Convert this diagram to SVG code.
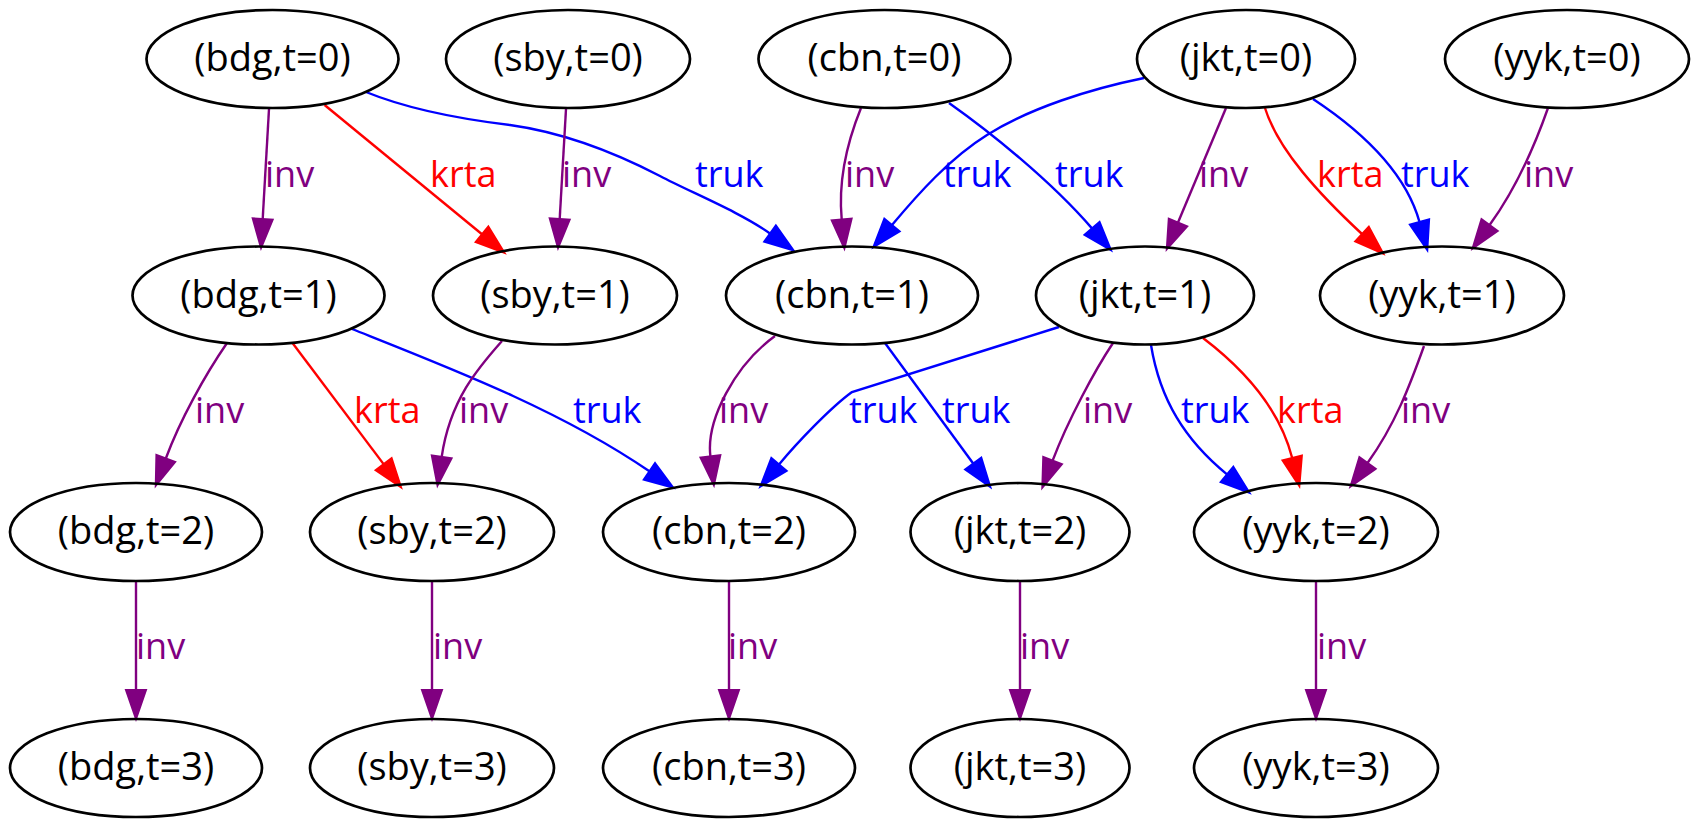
<svg xmlns="http://www.w3.org/2000/svg" width="1700" height="828" viewBox="0 0 1700 828">
<defs>
<style>
.node ellipse{fill:none;stroke:#000;stroke-width:2.7}
.node text{font-family:"Open Sans","Noto Sans","DejaVu Sans",sans-serif;font-size:38px;text-anchor:middle;fill:#000}
.e path{fill:none;stroke-width:2.4}
.lbl{font-family:"Open Sans","Noto Sans","DejaVu Sans",sans-serif;font-size:36px}
.inv path{stroke:#800080;marker-end:url(#ap)}
.krta path{stroke:#ff0000;marker-end:url(#ar)}
.truk path{stroke:#0000ff;marker-end:url(#ab)}
.inv text{fill:#800080}
.krta text{fill:#ff0000}
.truk text{fill:#0000ff}
</style>
<marker id="ap" markerUnits="userSpaceOnUse" markerWidth="32" markerHeight="24" refX="0" refY="11" orient="auto" overflow="visible"><path d="M0,1 L29,11 L0,21 z" fill="#800080" stroke="#800080" stroke-width="2"/></marker>
<marker id="ar" markerUnits="userSpaceOnUse" markerWidth="32" markerHeight="24" refX="0" refY="11" orient="auto" overflow="visible"><path d="M0,1 L29,11 L0,21 z" fill="#ff0000" stroke="#ff0000" stroke-width="2"/></marker>
<marker id="ab" markerUnits="userSpaceOnUse" markerWidth="32" markerHeight="24" refX="0" refY="11" orient="auto" overflow="visible"><path d="M0,1 L29,11 L0,21 z" fill="#0000ff" stroke="#0000ff" stroke-width="2"/></marker>
</defs>
<rect width="1700" height="828" fill="#fff"/>
<g id="connectors">
<g class="e inv"><path d="M269,109 L262.7,219"/><text class="lbl" x="265" y="187">inv</text></g>
<g class="e krta"><path d="M324.6,105 L482,234.3"/><text class="lbl" x="430" y="187">krta</text></g>
<g class="e truk"><path d="M366,92 C410,110 460,119 510,125 C560,132 610,150 660,176 C690,192 740,212 770,233.5"/><text class="lbl" x="695" y="187">truk</text></g>
<g class="e inv"><path d="M566,109 L559.7,219"/><text class="lbl" x="562" y="187">inv</text></g>
<g class="e inv"><path d="M861,108 C848,140 838,180 841.7,219.5"/><text class="lbl" x="845" y="187">inv</text></g>
<g class="e truk"><path d="M949,103 C990,132 1050,180 1092,228.4"/><text class="lbl" x="1055" y="187">truk</text></g>
<g class="e truk"><path d="M1144,78 C1090,89 1030,108 987,135 C950,158 918,194 892,225"/><text class="lbl" x="943" y="187">truk</text></g>
<g class="e inv"><path d="M1226,108 L1178,222.5"/><text class="lbl" x="1199" y="187">inv</text></g>
<g class="e krta"><path d="M1265,108 C1278,150 1320,195 1362,234"/><text class="lbl" x="1317" y="187">krta</text></g>
<g class="e truk"><path d="M1313,99 C1360,130 1405,170 1419.5,222"/><text class="lbl" x="1401" y="187">truk</text></g>
<g class="e inv"><path d="M1548,108 C1535,145 1515,190 1489.6,225"/><text class="lbl" x="1524" y="187">inv</text></g>
<g class="e inv"><path d="M227,343 C205,375 180,420 165.8,458.5"/><text class="lbl" x="195" y="423">inv</text></g>
<g class="e krta"><path d="M292.3,342.7 L383.6,464.1"/><text class="lbl" x="354" y="423">krta</text></g>
<g class="e truk"><path d="M352,329 C450,368 560,410 649.4,471.3"/><text class="lbl" x="573" y="423">truk</text></g>
<g class="e inv"><path d="M502,341 C478,368 450,400 441.7,456.8"/><text class="lbl" x="459" y="423">inv</text></g>
<g class="e inv"><path d="M775,336 C735,365 706,420 710.4,456.4"/><text class="lbl" x="719" y="423">inv</text></g>
<g class="e truk"><path d="M885,343 L973.2,463.5"/><text class="lbl" x="942" y="423">truk</text></g>
<g class="e truk"><path d="M1059,327 L852,392 C830,408 797,443 779,464.4"/><text class="lbl" x="849" y="423">truk</text></g>
<g class="e inv"><path d="M1113,343 C1095,370 1068,420 1052.6,460.6"/><text class="lbl" x="1083" y="423">inv</text></g>
<g class="e truk"><path d="M1151,345 C1160,400 1185,440 1227,474.4"/><text class="lbl" x="1181" y="423">truk</text></g>
<g class="e krta"><path d="M1203,338 C1245,370 1280,410 1292.2,458"/><text class="lbl" x="1277" y="423">krta</text></g>
<g class="e inv"><path d="M1424,346 C1410,385 1395,425 1367.5,463"/><text class="lbl" x="1401" y="423">inv</text></g>
<g class="e inv"><path d="M136,581 L136,690"/><text class="lbl" x="136" y="659">inv</text></g>
<g class="e inv"><path d="M432,581 L432,690"/><text class="lbl" x="433" y="659">inv</text></g>
<g class="e inv"><path d="M729,581 L729,690"/><text class="lbl" x="728" y="659">inv</text></g>
<g class="e inv"><path d="M1020,581 L1020,690"/><text class="lbl" x="1020" y="659">inv</text></g>
<g class="e inv"><path d="M1316,581 L1316,690"/><text class="lbl" x="1317" y="659">inv</text></g>
</g>
<g id="bdg_t0" class="node"><ellipse cx="272.5" cy="59" rx="126" ry="49"/><text x="272.5" y="71">(bdg,t=0)</text></g>
<g id="sby_t0" class="node"><ellipse cx="568" cy="59" rx="122" ry="49"/><text x="568" y="71">(sby,t=0)</text></g>
<g id="cbn_t0" class="node"><ellipse cx="884.5" cy="59" rx="126" ry="49"/><text x="884.5" y="71">(cbn,t=0)</text></g>
<g id="jkt_t0" class="node"><ellipse cx="1246" cy="59" rx="109" ry="49"/><text x="1246" y="71">(jkt,t=0)</text></g>
<g id="yyk_t0" class="node"><ellipse cx="1567" cy="59" rx="122" ry="49"/><text x="1567" y="71">(yyk,t=0)</text></g>
<g id="bdg_t1" class="node"><ellipse cx="258.5" cy="295.5" rx="126" ry="49"/><text x="258.5" y="307.5">(bdg,t=1)</text></g>
<g id="sby_t1" class="node"><ellipse cx="555" cy="295.5" rx="122" ry="49"/><text x="555" y="307.5">(sby,t=1)</text></g>
<g id="cbn_t1" class="node"><ellipse cx="852" cy="295.5" rx="126" ry="49"/><text x="852" y="307.5">(cbn,t=1)</text></g>
<g id="jkt_t1" class="node"><ellipse cx="1145" cy="295.5" rx="109" ry="49"/><text x="1145" y="307.5">(jkt,t=1)</text></g>
<g id="yyk_t1" class="node"><ellipse cx="1442" cy="295.5" rx="122" ry="49"/><text x="1442" y="307.5">(yyk,t=1)</text></g>
<g id="bdg_t2" class="node"><ellipse cx="136" cy="532" rx="126" ry="49"/><text x="136" y="544">(bdg,t=2)</text></g>
<g id="sby_t2" class="node"><ellipse cx="432" cy="532" rx="122" ry="49"/><text x="432" y="544">(sby,t=2)</text></g>
<g id="cbn_t2" class="node"><ellipse cx="729" cy="532" rx="126" ry="49"/><text x="729" y="544">(cbn,t=2)</text></g>
<g id="jkt_t2" class="node"><ellipse cx="1020" cy="532" rx="109.5" ry="49"/><text x="1020" y="544">(jkt,t=2)</text></g>
<g id="yyk_t2" class="node"><ellipse cx="1316" cy="532" rx="122" ry="49"/><text x="1316" y="544">(yyk,t=2)</text></g>
<g id="bdg_t3" class="node"><ellipse cx="136" cy="768" rx="126" ry="49"/><text x="136" y="780">(bdg,t=3)</text></g>
<g id="sby_t3" class="node"><ellipse cx="432" cy="768" rx="122" ry="49"/><text x="432" y="780">(sby,t=3)</text></g>
<g id="cbn_t3" class="node"><ellipse cx="729" cy="768" rx="126" ry="49"/><text x="729" y="780">(cbn,t=3)</text></g>
<g id="jkt_t3" class="node"><ellipse cx="1020" cy="768" rx="109.5" ry="49"/><text x="1020" y="780">(jkt,t=3)</text></g>
<g id="yyk_t3" class="node"><ellipse cx="1316" cy="768" rx="122" ry="49"/><text x="1316" y="780">(yyk,t=3)</text></g>
</svg>
